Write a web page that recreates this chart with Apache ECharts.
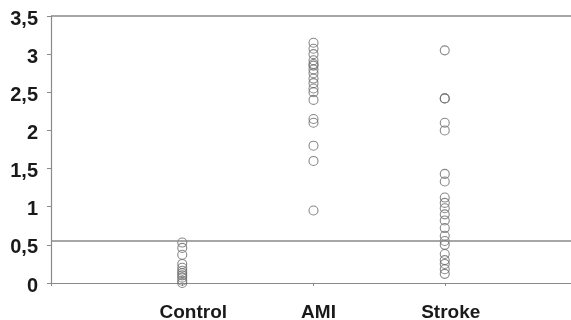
<!DOCTYPE html>
<html>
<head>
<meta charset="utf-8">
<script src="https://cdn.jsdelivr.net/npm/echarts@6/dist/echarts.min.js"></script>
<style>html,body{margin:0;padding:0;background:#fff}#c{width:571px;height:320px}</style>
</head>
<body>
<div id="c"></div>
<script>
var categories = ['Control', 'AMI', 'Stroke'];
var yTicks = ['0', '0,5', '1', '1,5', '2', '2,5', '3', '3,5'];
var controlValues = [0.53, 0.46, 0.37, 0.25, 0.2, 0.16, 0.13, 0.1, 0.07, 0.03, 0.0];
var amiValues = [3.15, 3.07, 3.0, 2.92, 2.87, 2.85, 2.8, 2.75, 2.68, 2.62, 2.55, 2.5, 2.4, 2.15, 2.1, 1.8, 1.6, 0.95];
var strokeValues = [3.05, 2.42, 2.42, 2.1, 2.0, 1.43, 1.33, 1.12, 1.05, 0.98, 0.9, 0.82, 0.72, 0.62, 0.55, 0.5, 0.38, 0.3, 0.25, 0.18, 0.12];
var cutoffValue = 0.55;
var topValue = 3.5;

function pts(idx, vals) { return vals.map(function (v) { return [idx + 1, v]; }); }

var chart = echarts.init(document.getElementById('c'), null, {renderer: 'canvas'});
var symStyle = {color: 'rgba(255,255,255,0)', borderColor: '#6a6a6a', borderWidth: 1.1};
var labelFont = {color: '#1a1a1a', fontFamily: 'Liberation Sans, Arial, sans-serif', fontWeight: 'bold'};
var xPads = [22, 10, 12];
var xRich = {};
xPads.forEach(function (p, i) { xRich['c' + i] = Object.assign({fontSize: 19, padding: [0, 0, 0, p]}, labelFont); });
chart.setOption({
  animation: false,
  grid: {left: 51, right: -5, top: 16, bottom: 37, containLabel: false, outerBoundsMode: 'none'},
  xAxis: {
    type: 'value', min: 0, max: 4, interval: 1,
    axisLine: {lineStyle: {color: '#8a8a8a', width: 1.2}},
    axisTick: {show: true, length: 3, lineStyle: {color: '#8a8a8a'}},
    splitLine: {show: false},
    axisLabel: Object.assign({
      margin: 20, fontSize: 19,
      formatter: function (v) { var c = categories[v - 1]; return c ? '{c' + (v - 1) + '|' + c + '}' : ''; },
      rich: xRich
    }, labelFont)
  },
  yAxis: {
    type: 'value', min: 0, max: 3.5, interval: 0.5,
    axisLine: {show: true, lineStyle: {color: '#8a8a8a', width: 1.2}},
    axisTick: {show: true, length: 4, lineStyle: {color: '#8a8a8a'}},
    splitLine: {show: false},
    axisLabel: Object.assign({
      margin: 13, fontSize: 20,
      formatter: function (v) { return '{a|' + yTicks[Math.round(v * 2)] + '}'; },
      rich: {a: Object.assign({fontSize: 20, padding: [6, 0, 0, 0]}, labelFont)}
    }, labelFont)
  },
  series: [
    {type: 'scatter', data: pts(0, controlValues), symbol: 'circle', symbolSize: 9, itemStyle: symStyle,
     markLine: {silent: true, symbol: ['none', 'none'], label: {show: false},
       lineStyle: {color: '#8a8a8a', width: 1.5, type: 'solid'},
       data: [{yAxis: cutoffValue}, {yAxis: topValue}]}},
    {type: 'scatter', data: pts(1, amiValues), symbol: 'circle', symbolSize: 9, itemStyle: symStyle},
    {type: 'scatter', data: pts(2, strokeValues), symbol: 'circle', symbolSize: 9, itemStyle: symStyle}
  ]
});
</script>
</body>
</html>
